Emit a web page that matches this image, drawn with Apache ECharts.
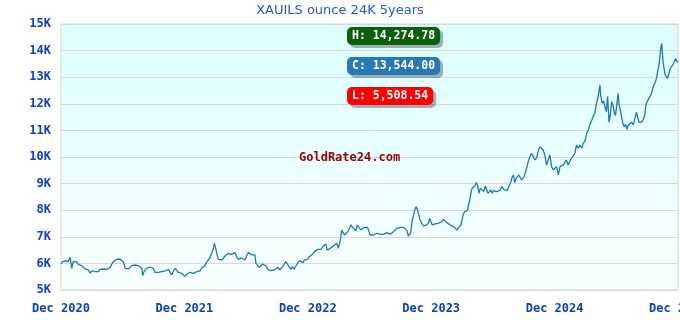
<!DOCTYPE html>
<html><head><meta charset="utf-8">
<script src="https://cdn.jsdelivr.net/npm/echarts@6/dist/echarts.min.js"></script>
<style>html,body{margin:0;padding:0;background:#fff}#c{width:680px;height:320px}</style>
</head><body><div id="c"></div>
<script>
const chartTitle = 'XAUILS ounce 24K 5years';
const watermark = 'GoldRate24.com';
const startDate = '2020-12-01';
const endDate = '2025-12-01';
const xTickLabels = ['Dec 2020','Dec 2021','Dec 2022','Dec 2023','Dec 2024','Dec 2025'];
const yTickValues = [5000,6000,7000,8000,9000,10000,11000,12000,13000,14000,15000];
const yTickLabels = ['5K','6K','7K','8K','9K','10K','11K','12K','13K','14K','15K'];

// days since startDate, and price (ILS per ounce)
const days1 = [0,5,9,15,21,27,32,36,41,46,
51,56,61,66,71,76,81,86,91,96,
101,106,111,115,120,125,130,135,140,145,
150,155,160,165,170,175,180,185,190,194,
199,204,209,214,219,224,229,234,239,242,
246,251,256,262,267,273,278,283,289,293,
298,303,308,313,318,323,328,333,338,342,
347,352,357,362,367,372,377,382,387,392,
397,402,407,412,416,421,426,431,436,441,
446,451,454,458,461];
const prices1 = [5980,6066,6040,6103,6066,6228,5815,6066,6116,6066,
5965,5990,5915,5878,5790,5715,5752,5627,5715,5752,
5690,5765,5690,5778,5715,5790,5815,5778,5815,5840,
5965,6066,6103,6153,6191,6166,6128,6040,5815,5840,
5790,5865,5915,5840,5940,5890,5915,5840,5815,5540,
5690,5790,5840,5865,5840,5815,5665,5627,5665,5590,
5690,5665,5715,5690,5765,5715,5565,5715,5815,5752,
5665,5690,5627,5590,5508.54,5590,5627,5665,5690,5627,
5665,5690,5752,5715,5815,5878,5915,6040,6091,6216,
6379,6567,6755,6567,6379];

const days2 = [466,471,476,481,486,491,495,500,505,510,
515,520,525,530,535,540,545,550,555,560,
565,570,574,577,582,587,592,597,602,607,
612,617,622,627,632,637,642,647,651,656,
661,665,670,675,680,685,690,695,701,706,
711,716,721,725,730,735,740,745,750,755,
760,765,770,775,780,784,788,792,797,801,
806,811,816,821,824,827,831,835,839,844,
849,854,858,863,868,873,877,882,887,892,
897,902,907,912,915,920,925];
const prices2 = [6154,6191,6129,6191,6279,6354,6379,6317,6342,6317,
6404,6254,6154,6229,6204,6154,6129,6317,6404,6354,
6317,6379,6317,6003,5941,5853,5903,5978,5941,5903,
5778,5753,5728,5778,5753,5815,5853,5753,5815,5878,
5978,6066,5978,5903,5778,5878,5778,5778,6028,6104,
6066,6028,6129,6129,6154,6254,6229,6354,6442,6504,
6530,6504,6530,6630,6692,6730,6504,6442,6567,6530,
6655,6730,6755,6567,6530,6880,7256,7156,7068,7131,
7194,7319,7444,7357,7407,7231,7444,7407,7256,7281,
7357,7407,7357,7194,7068,7006,7068];

const days3 = [930,935,940,945,950,954,959,964,969,974,
979,984,989,994,999,1004,1009,1014,1019,1024,
1028,1031,1035,1039,1043,1047,1051,1055,1059,1063,
1068,1073,1078,1083,1088,1091,1095,1099,1103,1107,
1112,1117,1122,1127,1132,1137,1142,1147,1152,1157,
1162,1167,1172,1177,1181,1184,1187,1191,1195,1199,
1203,1207,1211,1214,1217,1221,1225,1229,1233,1237,
1241,1246,1251,1256,1260,1264,1268,1272,1276,1280,
1285,1290,1295,1300,1305,1310,1315,1320,1325,1328,
1332,1335,1339,1343,1347,1351,1355,1359,1363,1367,
1371,1375,1379,1383,1387];
const prices3 = [7069,7132,7107,7094,7132,7094,7132,7157,7107,7094,
7132,7194,7257,7320,7357,7357,7320,7357,7320,7232,
7031,7006,7132,7570,7783,8009,8134,8034,7821,7633,
7508,7407,7357,7445,7533,7695,7570,7445,7407,7482,
7445,7508,7482,7570,7658,7608,7533,7482,7445,7482,
7382,7320,7257,7357,7320,7445,7633,7858,7946,7908,
7984,8234,8447,8698,8823,8760,8911,9036,8948,8635,
8823,8760,8698,8911,8986,8635,8660,8760,8635,8735,
8660,8698,8735,8760,8886,8786,8823,8735,8698,8948,
9074,9237,9324,9036,9199,9262,9324,9287,9136,9074,
9262,9450,9613,9826,9988];

const days4 = [1393,1398,1403,1408,1412,1417,1422,1427,1432,1437,
1442,1447,1452,1457,1462,1467,1472,1477,1482,1487,
1491,1496,1501,1506,1511,1516,1521,1526,1531,1536,
1541,1546,1551,1556,1561,1565,1570,1575,1580,1585,
1590,1595,1598,1602,1606,1610,1614,1618,1622,1626,
1630,1634,1638,1641,1645,1649,1652,1655,1659,1663,
1667,1671,1675,1679,1684,1689,1694,1699,1703,1707,
1711,1715,1718,1723,1728,1731,1735,1739,1743,1747,
1751,1755,1759,1763,1766,1769,1772,1775,1778,1780,
1782,1785,1788,1791,1795,1799,1803,1807,1811,1815,
1819,1822,1825];
const prices4 = [10140,10015,9889,9977,10202,10390,10353,10265,10077,9701,
9639,10077,9639,9513,9451,9639,9325,9639,9576,9701,
9639,9889,9701,9764,9952,10015,10140,10453,10328,10453,
10328,10516,10604,10892,11017,11205,11355,11518,11644,12019,
12270,12708,12270,12019,12107,11894,11706,12270,11305,11581,
12082,11932,11644,11556,11957,12395,11957,11806,11518,11267,
11142,11230,11042,11205,11267,11305,11205,11455,11681,11706,
11305,11355,11305,11393,11581,11957,12082,12145,12270,12358,
12558,12708,12809,12984,13210,13398,13648,14087,14274.78,13899,
13586,13335,13084,13109,12959,13109,13335,13272,13460,13561,
13700,13750,13544];

const allDays = days1.concat(days2, days3, days4);
const allPrices = prices1.concat(prices2, prices3, prices4);
if (allDays.length !== allPrices.length) throw new Error('length mismatch ' + allDays.length + ' vs ' + allPrices.length);

const DAY = 86400000;
const YEAR_DAYS = 365.25;
const spanDays = Math.round((Date.parse(endDate) - Date.parse(startDate)) / DAY); // 1826
const seriesData = allDays.map((d, i) => [d, allPrices[i]]);
const highPrice = Math.max(...allPrices);
const lowPrice = Math.min(...allPrices);
const currentPrice = allPrices[allPrices.length - 1];
const fmt = v => v.toLocaleString('en-US', {minimumFractionDigits: 2, maximumFractionDigits: 2});

const monoFont = '"DejaVu Sans Mono", "Liberation Mono", monospace';
const badge = (label, value, color, top) => ({
  type: 'text', left: 347, top: top, z: 100,
  style: {
    text: label + ': ' + fmt(value), fill: '#ffffff',
    font: 'bold 11.5px ' + monoFont,
    backgroundColor: color, borderRadius: 5, padding: [3, 5, 3, 5],
    shadowColor: 'rgba(0,0,0,0.3)', shadowBlur: 0, shadowOffsetX: 3, shadowOffsetY: 3
  }
});

const chart = echarts.init(document.getElementById('c'), null, {renderer: 'canvas'});
chart.setOption({
  animation: false,
  backgroundColor: '#ffffff',
  title: {
    text: chartTitle, left: 'center', top: 4, padding: 0,
    textStyle: {color: '#2457d0', fontSize: 13, fontWeight: 'normal', fontFamily: 'DejaVu Sans'}
  },
  grid: {
    left: 61, right: 2, top: 24, bottom: 30, show: true,
    outerBoundsMode: 'none', containLabel: false,
    borderColor: '#d4d4d4', borderWidth: 1,
    backgroundColor: new echarts.graphic.LinearGradient(0, 0, 0, 1, [
      {offset: 0, color: '#dcffff'}, {offset: 1, color: '#f8ffff'}
    ])
  },
  xAxis: {
    type: 'value', min: 0, max: spanDays + 0.25, interval: YEAR_DAYS,
    axisLine: {show: false}, axisTick: {show: false}, splitLine: {show: false},
    axisLabel: {
      margin: 13, hideOverlap: false, showMinLabel: true, showMaxLabel: true,
      color: '#0a40c8', fontFamily: monoFont, fontWeight: 'bold', fontSize: 12,
      formatter: v => { const i = Math.round(v / YEAR_DAYS); return xTickLabels[i] || ''; }
    }
  },
  yAxis: {
    type: 'value', min: 5000, max: 15000, interval: 1000,
    axisLine: {show: false}, axisTick: {show: false},
    splitLine: {lineStyle: {color: '#d8d8d8', width: 1}},
    axisLabel: {
      margin: 10, color: '#0a40c8', fontFamily: monoFont, fontWeight: 'bold', fontSize: 12,
      formatter: v => { const i = yTickValues.indexOf(v); return i >= 0 ? yTickLabels[i] : ''; }
    }
  },
  series: [{
    type: 'line', data: seriesData, showSymbol: false, symbol: 'none',
    lineStyle: {color: '#1f77b4', width: 1.3}
  }],
  graphic: [
    {type: 'text', left: 299, top: 152, z: 50,
     style: {text: watermark, fill: '#990000', font: 'bold 12px ' + monoFont}},
    badge('H', highPrice, '#0b600b', 27),
    badge('C', currentPrice, '#2878b8', 57),
    badge('L', lowPrice, '#ff0000', 87)
  ]
});
</script></body></html>
